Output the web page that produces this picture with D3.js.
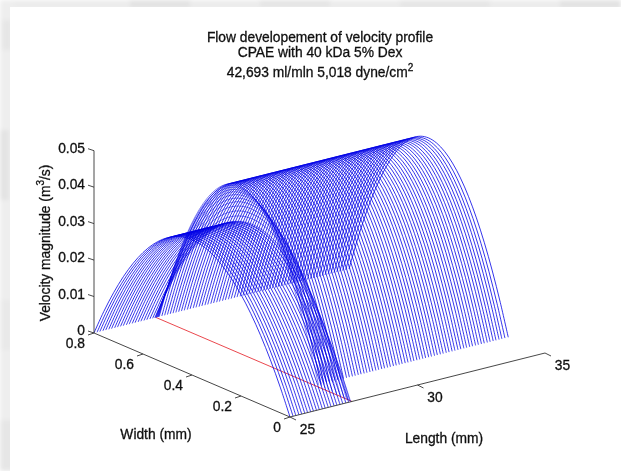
<!DOCTYPE html>
<html lang="en">
<head>
<meta charset="UTF-8">
<title>Flow developement of velocity profile</title>
<script src="https://cdn.jsdelivr.net/npm/d3@7"></script>
<style>
    html, body { margin: 0; padding: 0; background: #fff; }
    svg { display: block; }
    text { font-family: "Liberation Sans", Arial, sans-serif; fill: #111; stroke: #111; stroke-width: 0.3px; }
</style>
</head>
<body>
<script>
const titleLines = ['Flow developement of velocity profile', 'CPAE with 40 kDa 5% Dex']

const velocityTicks = [0, 0.01, 0.02, 0.03, 0.04, 0.05]
const widthTicks = [0, 0.2, 0.4, 0.6, 0.8]
const lengthTicks = [25, 30, 35]

// inlet profiles, same height all the way
const inletLengths = [25, 25.12, 25.23, 25.35, 25.46, 25.58, 25.69, 25.81, 25.92, 26.04, 26.15, 26.27, 26.38, 26.5, 26.61, 26.73, 26.84, 26.96, 27.07, 27.19, 27.3]
// profiles where the flow jumps up and the right edge pulls in
const fanLengths = [27.38, 27.4, 27.41, 27.43, 27.45, 27.46, 27.48, 27.5, 27.51, 27.53, 27.54, 27.56]
const fanPeaks = [0.0371, 0.0385, 0.0398, 0.041, 0.042, 0.0428, 0.0435, 0.044, 0.0444, 0.0448, 0.0451, 0.0453]
const fanEdges = [0, 0.005, 0.012, 0.022, 0.035, 0.05, 0.068, 0.088, 0.105, 0.12, 0.135, 0.15]
// developed profiles
const plateauLengths = [27.66, 27.77, 27.88, 27.99, 28.1, 28.21, 28.32, 28.43, 28.54, 28.66, 28.77, 28.89, 29, 29.12, 29.23, 29.35, 29.46, 29.58, 29.69, 29.81, 29.92, 30.04, 30.15, 30.27, 30.38, 30.5, 30.61, 30.73, 30.84, 30.96, 31.07, 31.19, 31.3, 31.42, 31.53, 31.65, 31.76, 31.88, 31.99, 32.11, 32.22, 32.34, 32.45, 32.57, 32.68, 32.8, 32.91, 33.03, 33.14, 33.26, 33.37, 33.49, 33.6, 33.72, 33.83, 33.95, 34.06, 34.18, 34.29, 34.41, 34.52, 34.64, 34.75, 34.87, 35]

const inletPeak = 0.0371
const plateauPeak = 0.0453
const plateauEdge = 0.15
const wallWidth = 0.8
const redLength = 27.43

// shape across the channel, as a part of the peak
const spanFractions = [0, 0.05, 0.1, 0.15, 0.2, 0.25, 0.3, 0.35, 0.4, 0.45, 0.5, 0.55, 0.6, 0.65, 0.7, 0.75, 0.8, 0.85, 0.9, 0.95, 1]
const shapeValues = [0, 0.19, 0.36, 0.51, 0.64, 0.75, 0.84, 0.91, 0.96, 0.99, 1, 0.99, 0.96, 0.91, 0.84, 0.75, 0.64, 0.51, 0.36, 0.19, 0]

// grey paper showing round the white sheet
const marginPatches = [[0, 0, 621, 10, '#ececec'], [0, 0, 14, 471, '#eeeeee'], [0, 130, 9, 70, '#e3e3e3'], [2, 20, 10, 30, '#e6e6e6'],
    [0, 300, 12, 50, '#e9e9e9'], [0, 420, 14, 51, '#e6e6e6'], [130, 0, 60, 8, '#e2e2e2'], [260, 0, 70, 7, '#e4e4e4'], [400, 0, 90, 8, '#e5e5e5'], [560, 0, 61, 8, '#e2e2e2']]

const width = 621
const height = 471

const svg = d3.select('body').append('svg')
    .attr('width', width)
    .attr('height', height)

const defs = svg.append('defs')
defs.append('filter').attr('id', 'soft')
    .append('feGaussianBlur').attr('stdDeviation', 0.35)
defs.append('filter').attr('id', 'paper')
    .append('feGaussianBlur').attr('stdDeviation', 2)

svg.append('g').attr('filter', 'url(#paper)')
    .selectAll('rect')
    .data(marginPatches)
    .enter()
    .append('rect')
    .attr('x', d => d[0])
    .attr('y', d => d[1])
    .attr('width', d => d[2])
    .attr('height', d => d[3])
    .attr('fill', d => d[4])

svg.append('rect').attr('x', 10).attr('y', 7).attr('width', width - 10).attr('height', height - 7).attr('fill', '#fff')

// the box is a fixed 3D view, so each data axis moves the point in both x and y
const lengthX = d3.scaleLinear().domain([25, 35]).range([290, 545])
const lengthY = d3.scaleLinear().domain([25, 35]).range([417, 353])
const widthX = d3.scaleLinear().domain([0, 0.8]).range([0, -196])
const widthY = d3.scaleLinear().domain([0, 0.8]).range([0, -84])
const velocityY = d3.scaleLinear().domain([0, 0.05]).range([0, -182.3])

const project = (len, wid, vel) => [lengthX(len) + widthX(wid), lengthY(len) + widthY(wid) + velocityY(vel)]

const profiles = []
inletLengths.forEach(l => profiles.push({ length: l, peak: inletPeak, edge: 0, weight: 0.8 }))
fanLengths.forEach((l, i) => profiles.push({ length: l, peak: fanPeaks[i], edge: fanEdges[i], weight: 0.5 }))
plateauLengths.forEach(l => profiles.push({ length: l, peak: plateauPeak, edge: plateauEdge, weight: 0.8 }))

const line = d3.line().curve(d3.curveCatmullRom)

const profilePath = d => line(spanFractions.map((f, i) => {
    const wid = wallWidth + (d.edge - wallWidth) * f
    return project(d.length, wid, d.peak * shapeValues[i])
}))

const plot = svg.append('g').attr('filter', 'url(#soft)')

// red line on the floor, blue goes over it
plot.append('line')
    .attr('x1', project(redLength, wallWidth, 0)[0])
    .attr('y1', project(redLength, wallWidth, 0)[1])
    .attr('x2', project(redLength, 0, 0)[0])
    .attr('y2', project(redLength, 0, 0)[1])
    .attr('stroke', '#e8333a')
    .attr('stroke-width', 0.9)

plot.selectAll('path.profile')
    .data(profiles)
    .enter()
    .append('path')
    .attr('class', 'profile')
    .attr('d', profilePath)
    .attr('fill', 'none')
    .attr('stroke', '#0000e6')
    .attr('stroke-width', d => d.weight)

// axes
const axisColor = '#333'
const axisSegments = [
    [project(25, wallWidth, 0), project(25, wallWidth, 0.05)],
    [project(25, wallWidth, 0), project(25, 0, 0)],
    [project(25, 0, 0), project(35, 0, 0)]
]
const tickSegments = [
    ...velocityTicks.map(v => { const p = project(25, wallWidth, v); return [p, [p[0] - 6, p[1] - 2]] }),
    ...widthTicks.map(w => { const p = project(25, w, 0); return [p, [p[0] - 6, p[1] + 2]] }),
    ...lengthTicks.map(l => { const p = project(l, 0, 0); return [p, [p[0] + 6, p[1] + 3]] })
]

const axes = svg.append('g').attr('filter', 'url(#soft)')

axes.selectAll('line')
    .data([...axisSegments, ...tickSegments])
    .enter()
    .append('line')
    .attr('x1', d => d[0][0])
    .attr('y1', d => d[0][1])
    .attr('x2', d => d[1][0])
    .attr('y2', d => d[1][1])
    .attr('stroke', axisColor)
    .attr('stroke-width', 0.9)

const labels = svg.append('g').attr('filter', 'url(#soft)').attr('font-size', 13.8)

labels.selectAll('text.v')
    .data(velocityTicks)
    .enter()
    .append('text')
    .attr('class', 'v')
    .attr('x', d => project(25, wallWidth, d)[0] - 9)
    .attr('y', d => project(25, wallWidth, d)[1] + 2)
    .attr('text-anchor', 'end')
    .text(d => d)

labels.selectAll('text.w')
    .data(widthTicks)
    .enter()
    .append('text')
    .attr('class', 'w')
    .attr('x', d => project(25, d, 0)[0] - 9)
    .attr('y', d => project(25, d, 0)[1] + 15)
    .attr('text-anchor', 'end')
    .text(d => d)

labels.selectAll('text.l')
    .data(lengthTicks)
    .enter()
    .append('text')
    .attr('class', 'l')
    .attr('x', d => project(d, 0, 0)[0] + 17.5)
    .attr('y', d => project(d, 0, 0)[1] + 17)
    .attr('text-anchor', 'middle')
    .text(d => d)

labels.append('text').attr('x', 156).attr('y', 439).attr('text-anchor', 'middle').text('Width (mm)')
labels.append('text').attr('x', 444).attr('y', 443).attr('text-anchor', 'middle').text('Length (mm)')

const yLabel = labels.append('text')
    .attr('transform', 'translate(50,243) rotate(-90)')
    .attr('text-anchor', 'middle')
yLabel.append('tspan').text('Velocity magnitude (m')
yLabel.append('tspan').attr('dy', -6).attr('font-size', 10).text('3')
yLabel.append('tspan').attr('dy', 6).text('/s)')

labels.selectAll('text.title')
    .data(titleLines)
    .enter()
    .append('text')
    .attr('class', 'title')
    .attr('x', 320)
    .attr('y', (d, i) => 41.5 + i * 15.5)
    .attr('text-anchor', 'middle')
    .text(d => d)

const title3 = labels.append('text').attr('x', 320).attr('y', 77).attr('text-anchor', 'middle')
title3.append('tspan').text('42,693 ml/mln 5,018 dyne/cm')
title3.append('tspan').attr('dy', -6).attr('font-size', 10).text('2')
</script>
</body>
</html>
